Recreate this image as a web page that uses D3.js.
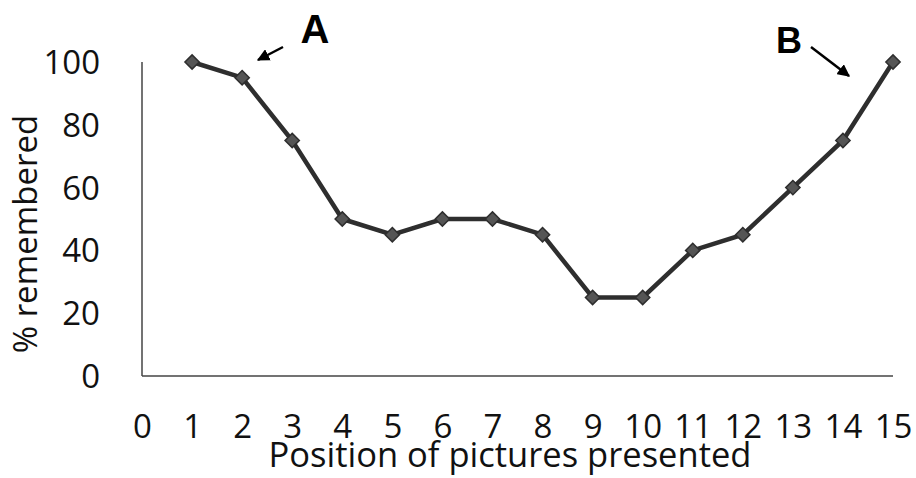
<!DOCTYPE html>
<html><head><meta charset="utf-8">
<script src="https://cdn.jsdelivr.net/npm/d3@7"></script>
<style>body{margin:0;background:#fff}svg{display:block}</style>
</head><body>
<svg id="c" width="916" height="478"></svg>
<script>
const positions = [1,2,3,4,5,6,7,8,9,10,11,12,13,14,15];
const remembered = [100,95,75,50,45,50,50,45,25,25,40,45,60,75,100];
const xTicks = [0,1,2,3,4,5,6,7,8,9,10,11,12,13,14,15];
const yTicks = [0,20,40,60,80,100];
const annotations = [{label:"A"},{label:"B"}];

const svg = d3.select("#c");
const font = "'Open Sans', 'Noto Sans', sans-serif";
const x = d3.scaleLinear().domain([0,15]).range([142,893]);
const y = d3.scaleLinear().domain([0,100]).range([376,62]);

// axes lines
svg.append("line").attr("x1",x(0)).attr("x2",x(0)).attr("y1",y(100)).attr("y2",y(0))
  .attr("stroke","#444").attr("stroke-width",1.5);
svg.append("line").attr("x1",x(0)).attr("x2",x(15)).attr("y1",y(0)).attr("y2",y(0))
  .attr("stroke","#444").attr("stroke-width",1.5);

// y tick labels
const yAxis = d3.axisLeft(y).tickValues(yTicks).tickSize(0).tickPadding(0);
const gy = svg.append("g").attr("transform","translate(100,0)").call(yAxis);
gy.select(".domain").remove();
gy.selectAll("text").attr("font-family",font).attr("font-size",33).attr("fill","#111")
  .attr("dy","0.35em");

// x tick labels
const xAxis = d3.axisBottom(x).tickValues(xTicks).tickSize(0).tickPadding(0);
const gx = svg.append("g").attr("transform","translate(0,426)").call(xAxis);
gx.select(".domain").remove();
gx.selectAll("text").attr("font-family",font).attr("font-size",33).attr("fill","#111")
  .attr("dy","0.35em").attr("y",0);

// titles
svg.append("text").attr("x",510).attr("y",467).attr("text-anchor","middle")
  .attr("font-family",font).attr("font-size",34.5).attr("fill","#111")
  .text("Position of pictures presented");
svg.append("text").attr("transform","translate(37,234) rotate(-90)").attr("text-anchor","middle")
  .attr("font-family",font).attr("font-size",33).attr("fill","#111")
  .text("% remembered");

// line
const data = positions.map((p,i)=>({p, v:remembered[i]}));
svg.append("path").datum(data)
  .attr("d", d3.line().x(d=>x(d.p)).y(d=>y(d.v)))
  .attr("fill","none").attr("stroke","#2e2e2e").attr("stroke-width",4.5);

// markers
svg.selectAll(".m").data(data).enter().append("path")
  .attr("transform", d=>`translate(${x(d.p)},${y(d.v)})`)
  .attr("d", d3.symbol().type(d3.symbolDiamond2).size(130)())
  .attr("fill","#555").attr("stroke","#2e2e2e").attr("stroke-width",1.5);

// annotations
svg.append("defs").append("marker").attr("id","ah").attr("viewBox","0 0 10 10")
  .attr("refX",9).attr("refY",5).attr("markerWidth",5).attr("markerHeight",5)
  .attr("orient","auto").append("path").attr("d","M0,0L10,5L0,10z").attr("fill","#000");

svg.append("text").attr("x",315).attr("y",43).attr("text-anchor","middle")
  .attr("font-family","'Liberation Sans', Arial, sans-serif").attr("font-weight","bold")
  .attr("font-size",40).attr("fill","#000").text(annotations[0].label);
svg.append("line").attr("x1",283).attr("y1",47).attr("x2",258).attr("y2",60)
  .attr("stroke","#000").attr("stroke-width",2.5).attr("marker-end","url(#ah)");

svg.append("text").attr("x",789).attr("y",53).attr("text-anchor","middle")
  .attr("font-family","'Liberation Sans', Arial, sans-serif").attr("font-weight","bold")
  .attr("font-size",36).attr("fill","#000").text(annotations[1].label);
svg.append("line").attr("x1",811).attr("y1",47).attr("x2",849).attr("y2",76)
  .attr("stroke","#000").attr("stroke-width",2.5).attr("marker-end","url(#ah)");
</script>
</body></html>
